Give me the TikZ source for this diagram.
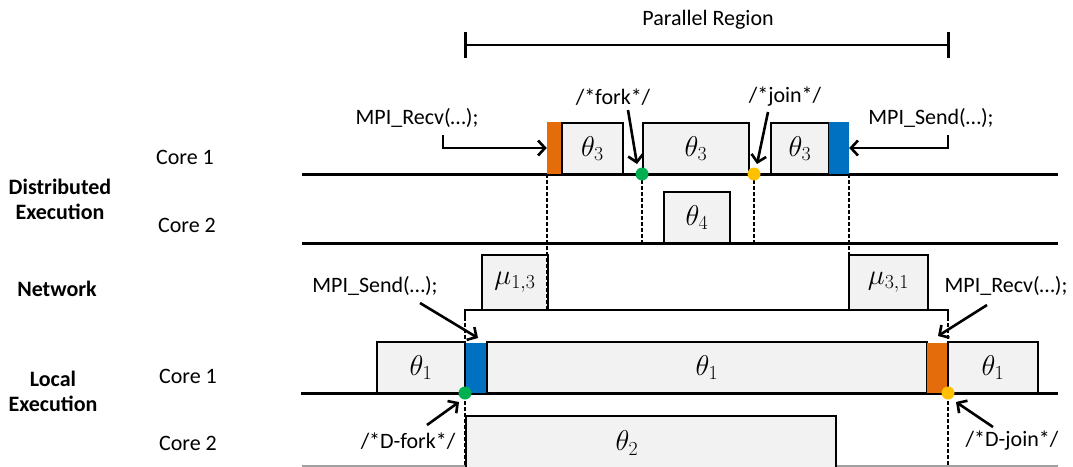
\documentclass[tikz,border=0pt]{standalone}
\usepackage[no-math]{fontspec}
\setmainfont{Carlito}
\usetikzlibrary{arrows.meta}
\definecolor{boxfill}{HTML}{F2F2F2}
\definecolor{barorange}{HTML}{E46C0A}
\definecolor{barblue}{HTML}{0070C0}
\definecolor{dotgreen}{HTML}{00B050}
\definecolor{dotyellow}{HTML}{FFC000}
\definecolor{linegray}{HTML}{A0A0A0}
\newcommand{\bm}[1]{\scalebox{1.15}{$#1$}}
\tikzset{
  lbl/.style={font=\fontsize{22}{26}\selectfont, inner sep=1pt},
  bold/.style={font=\fontsize{22}{25}\selectfont\bfseries, align=center, inner sep=1pt},
  tbox/.style={draw, line width=2.2pt, fill=boxfill, inner sep=0pt, font=\fontsize{25}{30}\selectfont},
  bar/.style={fill=#1, inner sep=0pt, draw=none},
  tline/.style={line width=3pt},
  dline/.style={line width=2.4pt, dash pattern=on 4pt off 2pt},
  arr/.style={line width=2.6pt, -{Straight Barb[length=7pt,width=15pt]}},
  dotn/.style={circle, fill=#1, minimum size=13pt, inner sep=0pt, draw=none}
}
\begin{document}
\begin{tikzpicture}[x=1pt,y=-1pt]
\useasboundingbox (0,0) rectangle (1073,466);

% parallel region bracket
\node[lbl] (preg) at (708,20) {Parallel Region};
\coordinate (brL) at (465,45);
\coordinate (brR) at (948,45);
\draw[line width=2.4pt] (brL) -- (brR);
\draw[line width=3pt] ([yshift=-13pt]brL) -- ([yshift=13pt]brL);
\draw[line width=3pt] ([yshift=-13pt]brR) -- ([yshift=13pt]brR);

% left labels
\node[lbl] (c1d) at (185,157) {Core 1};
\node[lbl] (c2d) at (187,225) {Core 2};
\node[bold] (dist) at (60,199) {Distributed\\Execution};
\node[bold] (netw) at (57,289) {Network};
\node[bold] (locl) at (53,391) {Local\\Execution};
\node[lbl] (c1l) at (188,376) {Core 1};
\node[lbl] (c2l) at (188,443) {Core 2};

% timelines
\draw[tline] (302,174) -- (1058,174);
\draw[tline] (302,243) -- (1058,243);
\draw[tline] (301,393) -- (1058,393);
\draw[line width=2pt, linegray] (302,465.5) -- (1058,465.5);

% distributed core 1
\node[bar=barorange, minimum width=15pt, minimum height=52pt] (or1) at (554.5,148) {};
\node[tbox, minimum width=61pt, minimum height=51pt] (t3a) at (592.5,148.5) {\bm{\theta_3}};
\node[tbox, minimum width=106pt, minimum height=51pt] (t3b) at (696,148.5) {\bm{\theta_3}};
\node[tbox, minimum width=58pt, minimum height=51pt] (t3c) at (800,148.5) {\bm{\theta_3}};
\node[bar=barblue, minimum width=20pt, minimum height=52pt] (bl1) at (839,148) {};
% distributed core 2
\node[tbox, minimum width=66pt, minimum height=51pt] (t4) at (697,217.5) {\bm{\theta_4}};
% network
\node[tbox, minimum width=66pt, minimum height=55pt] (mu13) at (515,282.5) {\bm{\mu_{1,3}}};
\node[tbox, minimum width=79pt, minimum height=55pt] (mu31) at (888.5,282.5) {\bm{\mu_{3,1}}};
\coordinate (nL) at (465,310);
\coordinate (nR) at (948,310);
\draw[line width=2.4pt] ([yshift=-7pt]nL) -- (nL) -- (nR) -- ([yshift=-7pt]nR);
% local core 1
\node[tbox, minimum width=88pt, minimum height=51pt] (t1a) at (421,367.5) {\bm{\theta_1}};
\node[bar=barblue, minimum width=21pt, minimum height=50pt] (bl2) at (476.5,368) {};
\node[tbox, minimum width=440pt, minimum height=51pt] (t1b) at (707,367.5) {\bm{\theta_1}};
\node[bar=barorange, minimum width=21pt, minimum height=50pt] (or2) at (937.5,368) {};
\node[tbox, minimum width=90pt, minimum height=51pt] (t1c) at (993,367.5) {\bm{\theta_1}};
% local core 2
\node[tbox, minimum width=370pt, minimum height=56pt] (t2) at (651,444) {};
\node[inner sep=0pt, font=\fontsize{25}{30}\selectfont] (t2lab) at (627,443) {\bm{\theta_2}};

% dashed synchronisation lines
\coordinate (gd1) at (642,174);
\coordinate (yd1) at (754,174);
\coordinate (gd2) at (465,393);
\coordinate (yd2) at (948,393);
\draw[dline] (or1.south west) -- (or1.south west |- mu13.south);
\draw[dline] (bl1.south east) -- (bl1.south east |- mu31.south);
\draw[dline] (gd1) -- (gd1 |- t4.south);
\draw[dline] (yd1) -- (yd1 |- t4.south);
\draw[dline] ([yshift=-7pt]nL) -- ([yshift=-170pt]nL);
\draw[dline] ([yshift=-7pt]nR) -- ([yshift=-170pt]nR);

% dots
\node[dotn=dotgreen] (gdot1) at (gd1) {};
\node[dotn=dotyellow] (ydot1) at (yd1) {};
\node[dotn=dotgreen] (gdot2) at (gd2) {};
\node[dotn=dotyellow] (ydot2) at (yd2) {};

% annotations
\node[lbl] (recvA) at (417,118) {MPI\_Recv(…);};
\node[lbl] (sendA) at (931,118) {MPI\_Send(…);};
\node[lbl] (fork) at (613,97) {/*fork*/};
\node[lbl] (join) at (785,97) {/*join*/};
\node[lbl] (sendB) at (375,286) {MPI\_Send(…);};
\node[lbl] (dfork) at (408,441) {/*D-fork*/};
\node[lbl] (recvB) at (1006,286) {MPI\_Recv(…);};
\node[lbl] (djoin) at (1012,441) {/*D-join*/};

\coordinate (aRecvA) at (443,135);
\coordinate (aSendA) at (948,135);
\coordinate (aFork1) at (628,110);
\coordinate (aFork2) at (637,164);
\coordinate (aJoin1) at (768,112);
\coordinate (aJoin2) at (757,164);
\coordinate (aSendB1) at (420,303);
\coordinate (aSendB2) at (478,338);
\coordinate (aDf1) at (427,425);
\coordinate (aDf2) at (459,402);
\coordinate (aRecvB1) at (987,305);
\coordinate (aRecvB2) at (938,336);
\coordinate (aDj1) at (993,427);
\coordinate (aDj2) at (956,402);

\draw[arr] (aRecvA) |- (or1.west);
\draw[arr] (aSendA) |- (bl1.east);
\draw[arr] (aFork1) -- (aFork2);
\draw[arr] (aJoin1) -- (aJoin2);
\draw[arr] (aSendB1) -- (aSendB2);
\draw[arr] (aDf1) -- (aDf2);
\draw[arr] (aRecvB1) -- (aRecvB2);
\draw[arr] (aDj1) -- (aDj2);
\end{tikzpicture}
\end{document}
